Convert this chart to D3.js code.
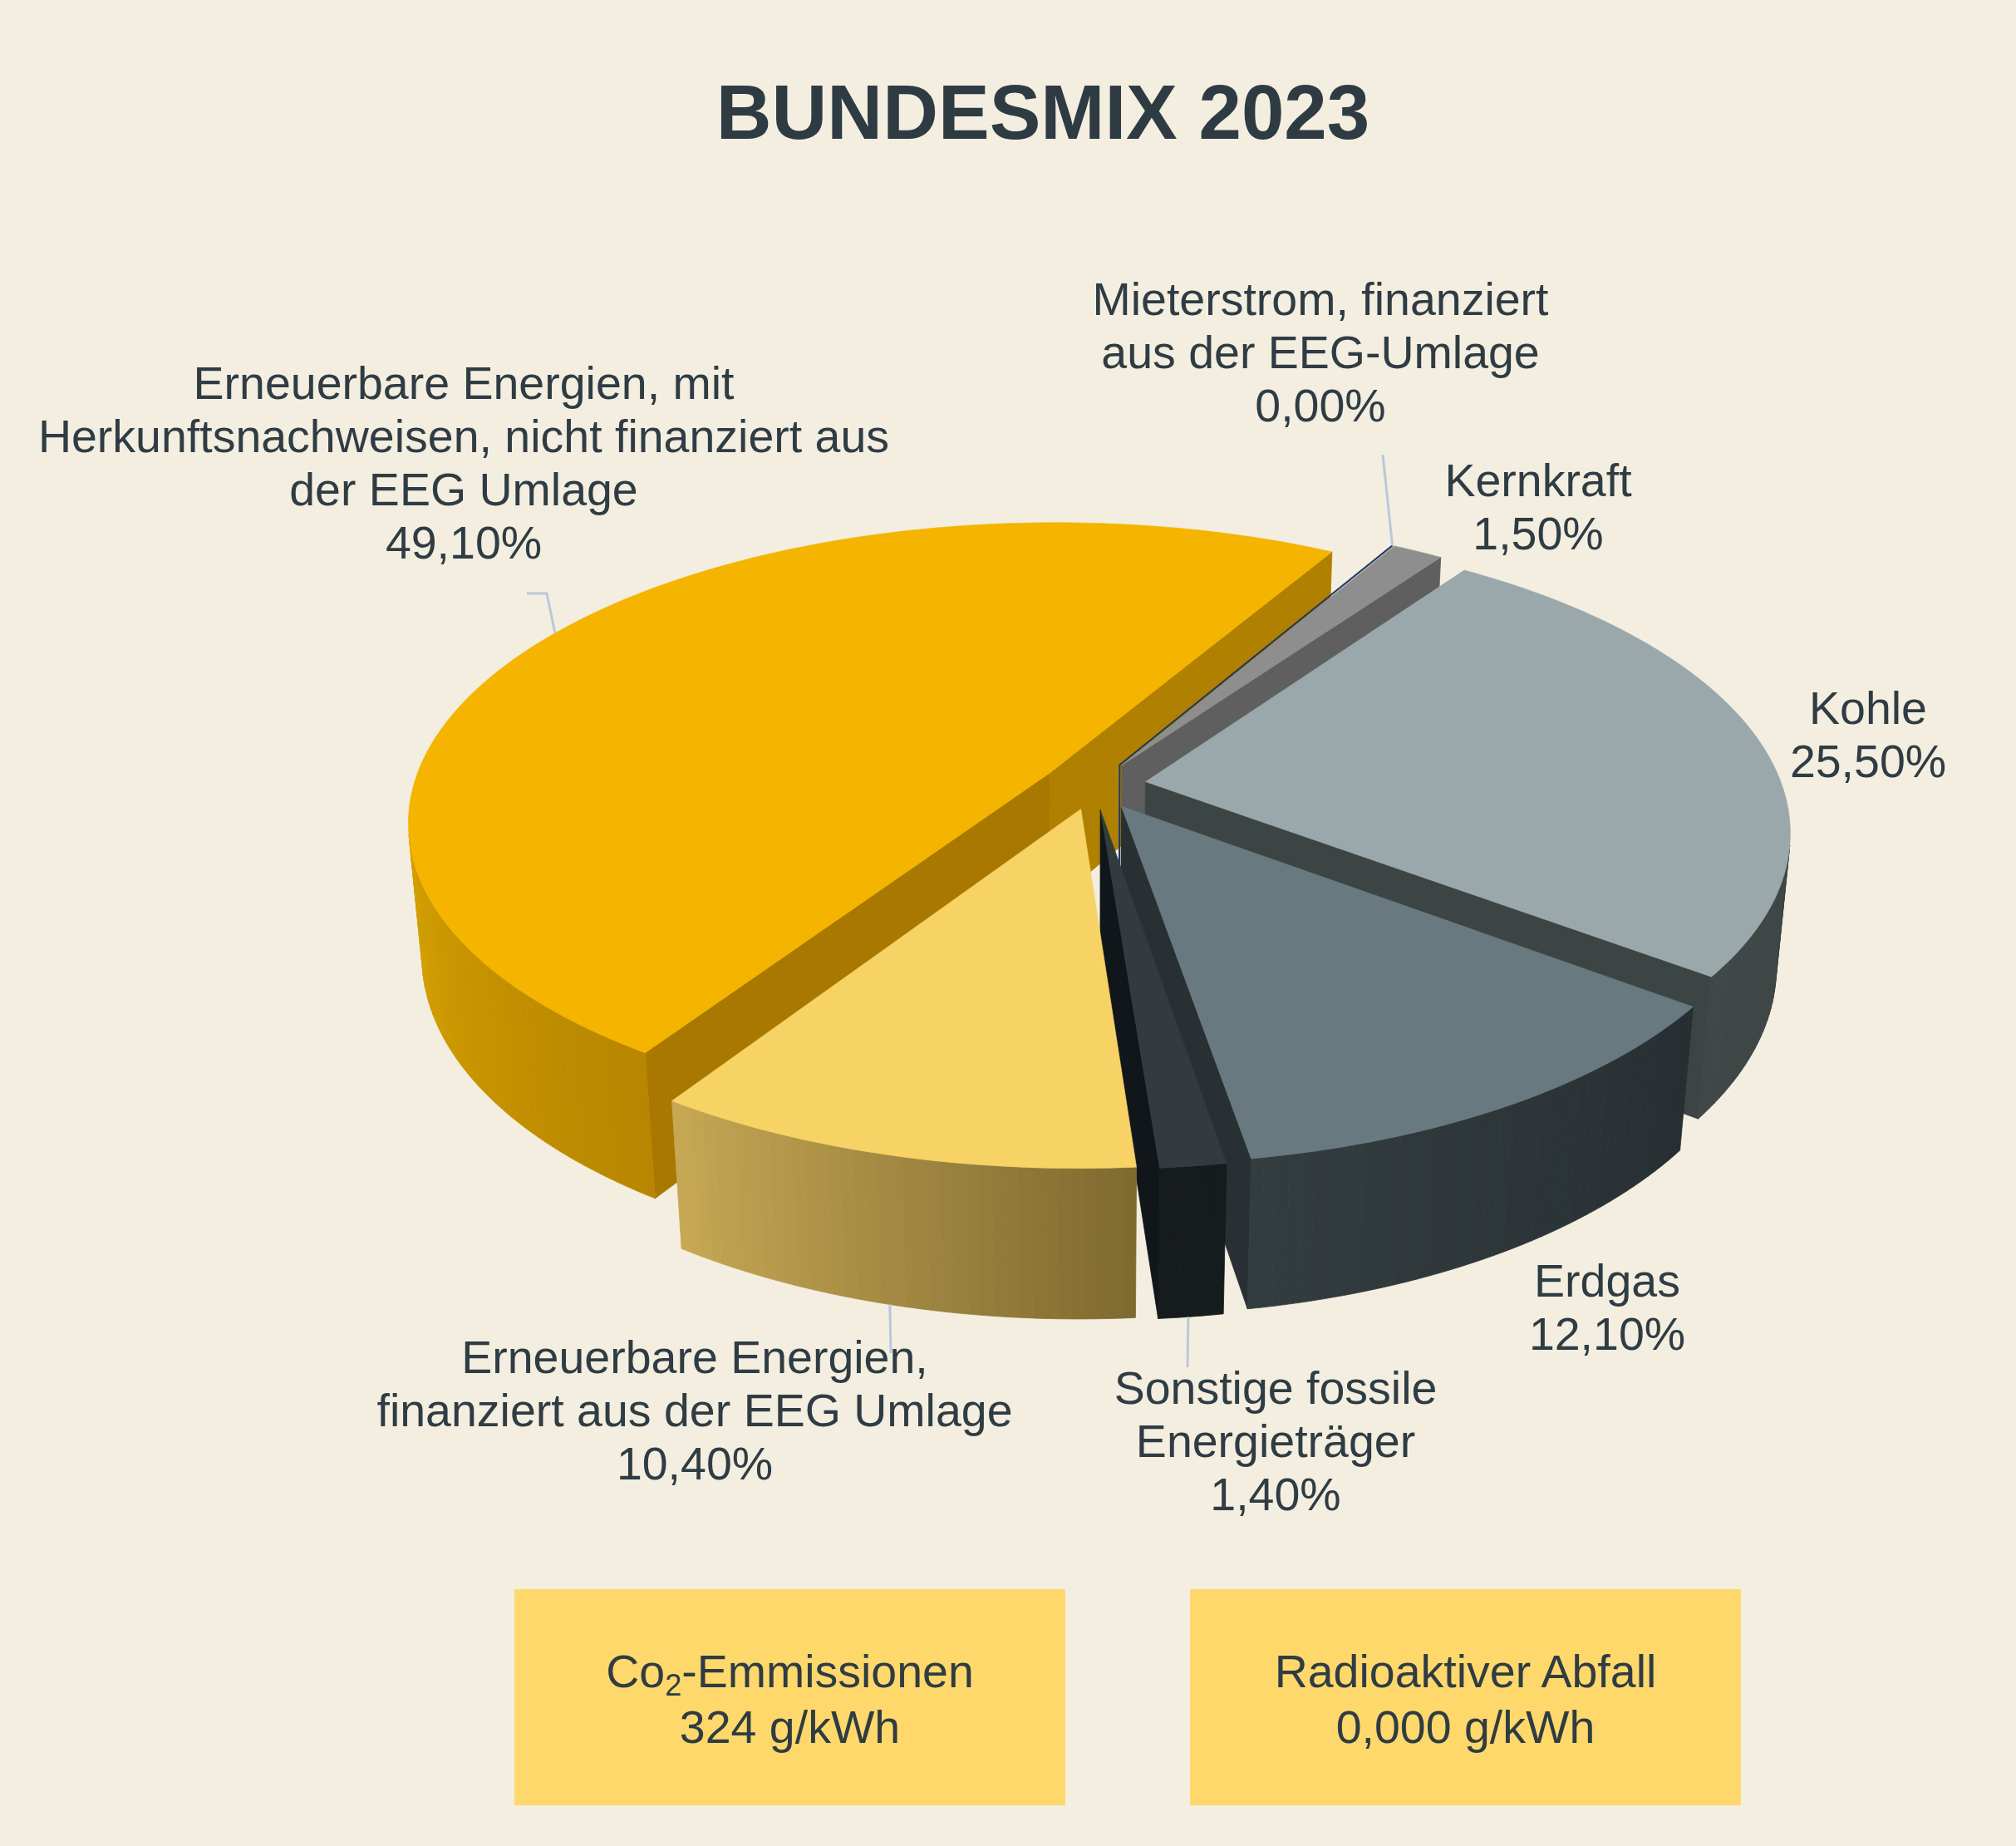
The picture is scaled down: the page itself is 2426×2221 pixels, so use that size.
<!DOCTYPE html>
<html>
<head>
<meta charset="utf-8">
<script src="https://cdn.jsdelivr.net/npm/d3@7"></script>
<style>
  html, body { margin: 0; padding: 0; background: #f3eee0; }
  svg { display: block; }
  text { font-family: "Liberation Sans", Arial, sans-serif; fill: #2f3c43; }
</style>
</head>
<body>
<svg id="chart" width="2426" height="2221"></svg>
<script>
// data
const categories = ["Erneuerbare Energien, mit Herkunftsnachweisen", "Mieterstrom", "Kernkraft", "Kohle", "Erdgas", "Sonstige fossile Energieträger", "Erneuerbare Energien, EEG"];
const shares = [49.1, 0, 1.5, 25.5, 12.1, 1.4, 10.4];
const labelLines = [
  ["Erneuerbare Energien, mit", "Herkunftsnachweisen, nicht finanziert aus", "der EEG Umlage"],
  ["Mieterstrom, finanziert", "aus der EEG-Umlage"],
  ["Kernkraft"],
  ["Kohle"],
  ["Erdgas"],
  ["Sonstige fossile", "Energieträger"],
  ["Erneuerbare Energien,", "finanziert aus der EEG Umlage"]
];
const infoTitles = ["-Emmissionen", "Radioaktiver Abfall"];
const infoValues = ["324 g/kWh", "0,000 g/kWh"];

// colours, same order as categories
const topColors = ["#f4b400", "#1f3864", "#8e8e8e", "#9aa8ac", "#687a80", "#333b3e", "#f7d365"];
const wallFrom = ["#b88600", "#1f3864", "#5e5f5e", "#3b4443", "#272f32", "#161b1d", "#7f6a30"];
const wallTo = ["#d4a000", "#1f3864", "#6a6a6a", "#3f4847", "#333c3f", "#161b1d", "#c6a854"];
const faceStart = ["#a87800", "#1f3864", "#5e5f5e", "#3c4544", "#283033", "#283033", "#7f6a30"];
const faceEnd = ["#b08000", "#1f3864", "#5e5f5e", "#3c4544", "#283033", "#10161a", "#7f6a30"];

const svg = d3.select("#chart");

// camera: disc coords u (right), v (towards viewer), z (0 top, 1 bottom)
const cam = { cx: 1316.5, cy: 945, a: 766, b: 353.5, d: 163, k: 0.159, m: 0.02 };
const explode = 0.082;
const deg = Math.PI / 180;

function project(u, v, z) {
  const w = 1 - cam.k * v + cam.m * z;
  return [cam.cx + cam.a * u / w, cam.cy + (cam.b * v + cam.d * z) / w];
}

const pie = d3.pie().sort(null).value(d => d)
  .startAngle(213.1 * deg).endAngle((213.1 + 360) * deg);
const arcs = pie(shares);

function sliceGeom(d) {
  const mid = (d.startAngle + d.endAngle) / 2;
  const ou = Math.sin(mid) * explode;
  const ov = -Math.cos(mid) * explode;
  const n = Math.max(2, Math.ceil((d.endAngle - d.startAngle) / deg));
  const rim = d3.range(n + 1).map(i => {
    const t = d.startAngle + (d.endAngle - d.startAngle) * i / n;
    return [ou + Math.sin(t), ov - Math.cos(t)];
  });
  return { apex: [ou, ov], rim, mid };
}

const line = d3.line();
const closed = pts => line(pts) + "Z";

function wallQuad(p, q) {
  return [project(p[0], p[1], 0), project(q[0], q[1], 0), project(q[0], q[1], 1), project(p[0], p[1], 1)];
}

// walls turned to the camera have positive area in screen coords
const facesCamera = quad => d3.polygonArea(quad) > 0;

const pieG = svg.append("g");

arcs.forEach((d, i) => {
  const geom = sliceGeom(d);
  const g = pieG.append("g").attr("class", "slice");

  if (shares[i] === 0) {
    // the empty slice only shows up as an outline
    const a = project(geom.apex[0], geom.apex[1], 0);
    const r = project(geom.rim[0][0], geom.rim[0][1], 0);
    const b = project(geom.apex[0], geom.apex[1], 1);
    g.append("path").attr("d", line([r, a, b]))
      .attr("fill", "none").attr("stroke", topColors[i]).attr("stroke-width", 2);
    return;
  }

  // radial faces, only the ones turned to the camera
  const startQuad = wallQuad(geom.apex, geom.rim[0]);
  const endQuad = wallQuad(geom.rim[geom.rim.length - 1], geom.apex);
  [[startQuad, faceStart[i]], [endQuad, faceEnd[i]]].forEach(([quad, col]) => {
    if (facesCamera(quad)) {
      g.append("path").attr("d", closed(quad))
        .attr("fill", col).attr("stroke", col).attr("stroke-width", 0.8);
    }
  });

  // outer wall in small facets, shaded along the visible part
  const facets = d3.pairs(geom.rim).map(([p, q]) => wallQuad(p, q)).filter(facesCamera);
  const shade = d3.scaleLinear().domain([0, Math.max(1, facets.length - 1)])
    .range([wallFrom[i], wallTo[i]]).interpolate(d3.interpolateRgb);
  g.selectAll("path.facet").data(facets).join("path")
    .attr("class", "facet")
    .attr("d", closed)
    .attr("fill", (q, j) => shade(j))
    .attr("stroke", (q, j) => shade(j))
    .attr("stroke-width", 0.8);

  // top
  const top = [geom.apex].concat(geom.rim).map(p => project(p[0], p[1], 0));
  g.append("path").attr("d", closed(top))
    .attr("fill", topColors[i]).attr("stroke", topColors[i]).attr("stroke-width", 0.6);
});

// label layout: centre x, first baseline, leader (along = where it meets the slice rim)
const lineStep = 64;
const labelPos = [
  { x: 558, y: 480, leader: [[634, 714], [658, 714]], z: 0, along: 0.5 },
  { x: 1589, y: 379, leader: [[1664, 547]], z: 0, along: 0 },
  { x: 1851, y: 597 },
  { x: 2248, y: 871 },
  { x: 1934, y: 1560 },
  { x: 1535, y: 1689, leader: [[1429, 1645]], z: 1, along: 0.54 },
  { x: 836, y: 1652, leader: [[1072, 1628]], z: 1, along: 0.508 }
];

const fmt = v => d3.format(".2f")(v).replace(".", ",") + "%";

arcs.forEach((d, i) => {
  const pos = labelPos[i];
  if (pos.leader) {
    const geom = sliceGeom(d);
    const t = d.startAngle + (d.endAngle - d.startAngle) * pos.along;
    const end = project(geom.apex[0] + Math.sin(t), geom.apex[1] - Math.cos(t), pos.z);
    svg.append("path").attr("d", line(pos.leader.concat([end])))
      .attr("fill", "none").attr("stroke", "#b9c8da").attr("stroke-width", 3);
  }
  const rows = labelLines[i].concat([fmt(shares[i])]);
  svg.append("g").selectAll("text").data(rows).join("text")
    .attr("x", pos.x)
    .attr("y", (r, j) => pos.y + j * lineStep)
    .attr("text-anchor", "middle")
    .attr("font-size", 55.5)
    .text(r => r);
});

svg.append("text")
  .attr("x", 1255).attr("y", 167)
  .attr("text-anchor", "middle")
  .attr("font-size", 92.5).attr("font-weight", 700)
  .style("fill", "#2e3b42")
  .text("BUNDESMIX 2023");

// info boxes
const boxX = [619, 1432];
boxX.forEach((x, i) => {
  svg.append("rect").attr("x", x).attr("y", 1912).attr("width", 663).attr("height", 260).attr("fill", "#ffd86b");
  const title = svg.append("text").attr("x", x + 331.5).attr("y", 2030)
    .attr("text-anchor", "middle").attr("font-size", 55.5);
  if (i === 0) {
    title.append("tspan").text("Co");
    title.append("tspan").attr("font-size", 36).attr("dy", 10).text("2");
    title.append("tspan").attr("dy", -10).text(infoTitles[i]);
  } else {
    title.text(infoTitles[i]);
  }
  svg.append("text").attr("x", x + 331.5).attr("y", 2097)
    .attr("text-anchor", "middle").attr("font-size", 55.5).text(infoValues[i]);
});
</script>
</body>
</html>
